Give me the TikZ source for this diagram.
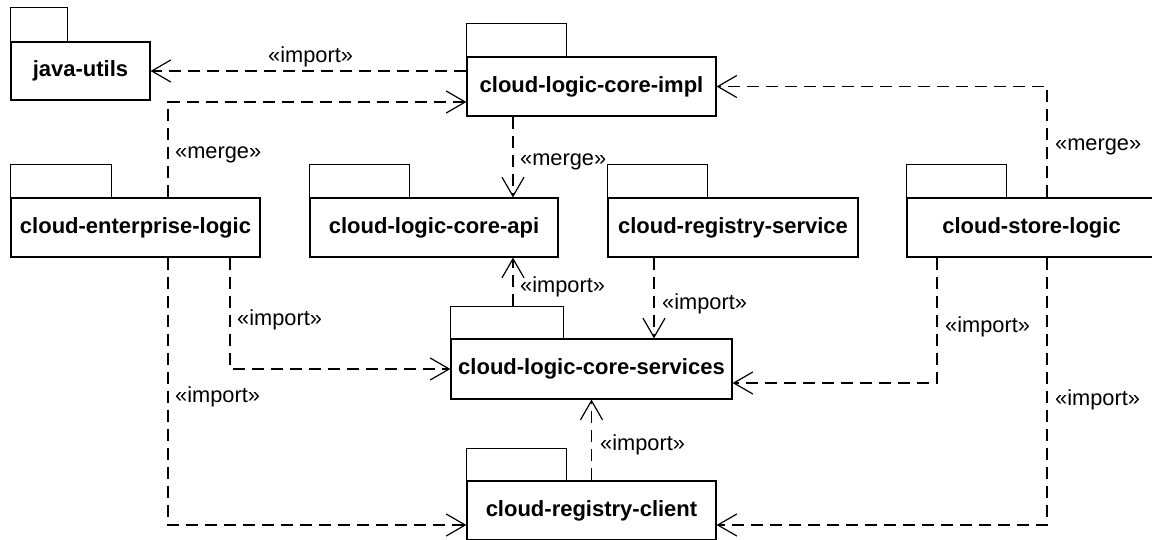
\documentclass[tikz,border=0pt]{standalone}
\usepackage{fontspec}
\setmainfont{Liberation Sans}
\usetikzlibrary{arrows.meta}

\tikzset{
  pkg/.style={draw, line width=1.2pt, inner sep=0pt, minimum height=59pt,
    font=\fontsize{22}{24}\selectfont\bfseries},
  tabline/.style={draw, line width=1.2pt},
  dep/.style={line width=1.2pt, dash pattern=on 12pt off 7pt,
    -{Straight Barb[length=19pt,width=22pt]}},
  stereo/.style={anchor=west, inner sep=0pt, font=\fontsize{21.8}{24}\selectfont}
}

\begin{document}
\begin{tikzpicture}[x=1pt, y=-1pt]
\useasboundingbox (0,0) rectangle (1152,540);

% package bodies
\node[pkg, minimum width=139pt, minimum height=58pt] (java) at (80.5,71) {java-utils};
\node[pkg, minimum width=249pt] (impl) at (591.5,86.5) {cloud-logic-core-impl};
\node[pkg, minimum width=249pt] (ent) at (135.5,227.5) {cloud-enterprise-logic};
\node[pkg, minimum width=248pt] (api) at (434,227.5) {cloud-logic-core-api};
\node[pkg, minimum width=250pt] (regsvc) at (733,227.5) {cloud-registry-service};
\node[pkg, minimum width=249pt] (store) at (1031.5,227.5) {cloud-store-logic};
\node[pkg, minimum width=281pt, minimum height=60pt] (svc) at (591.5,369) {cloud-logic-core-services};
\node[pkg, minimum width=249pt] (client) at (591.5,510.5) {cloud-registry-client};

% package tabs
\draw[tabline] (java.north west) rectangle +(57pt,34pt);
\draw[tabline] (impl.north west) rectangle +(100pt,33pt);
\draw[tabline] (ent.north west) rectangle +(101pt,33pt);
\draw[tabline] (api.north west) rectangle +(100pt,33pt);
\draw[tabline] (regsvc.north west) rectangle +(100pt,33pt);
\draw[tabline] (store.north west) rectangle +(100pt,33pt);
\draw[tabline] (svc.north west) rectangle +(113pt,32pt);
\draw[tabline] (client.north west) rectangle +(100pt,32pt);

% dependencies
\draw[dep] (impl.west |- java.east) -- (java.east);
\draw[dep] ([xshift=32.5pt]ent.north) |- ([yshift=-15.5pt]impl.west);
\draw[dep] ([xshift=-78.5pt]impl.south) coordinate (m1) -- (m1 |- api.north);
\draw[dep] ([xshift=15.5pt]store.north) |- (impl.east);
\draw[dep] ([xshift=-78.5pt,yshift=32pt]svc.north) coordinate (s1) -- (s1 |- api.south);
\draw[dep] ([xshift=-79pt]regsvc.south) coordinate (r1) -- (r1 |- svc.north);
\draw[dep] (client.north) coordinate (c1) -- (c1 |- svc.south);
\draw[dep] ([xshift=94.5pt]ent.south) |- (svc.west);
\draw[dep] ([xshift=32.5pt]ent.south) |- ([yshift=-14.5pt]client.west);
\draw[dep] ([xshift=-94.5pt]store.south) |- ([yshift=-14pt]svc.east);
\draw[dep] ([xshift=15.5pt]store.south) |- ([yshift=-14.5pt]client.east);

% stereotypes
\node[stereo] (l1) at (268,57) {«import»};
\node[stereo] (l2) at (175,155) {«merge»};
\node[stereo] (l3) at (520,162) {«merge»};
\node[stereo] (l4) at (1055,147) {«merge»};
\node[stereo] (l5) at (520,287) {«import»};
\node[stereo] (l6) at (662,304) {«import»};
\node[stereo] (l7) at (237,320) {«import»};
\node[stereo] (l8) at (945,327) {«import»};
\node[stereo] (l9) at (175,397) {«import»};
\node[stereo] (l10) at (1055,400) {«import»};
\node[stereo] (l11) at (600,445) {«import»};
\end{tikzpicture}
\end{document}
